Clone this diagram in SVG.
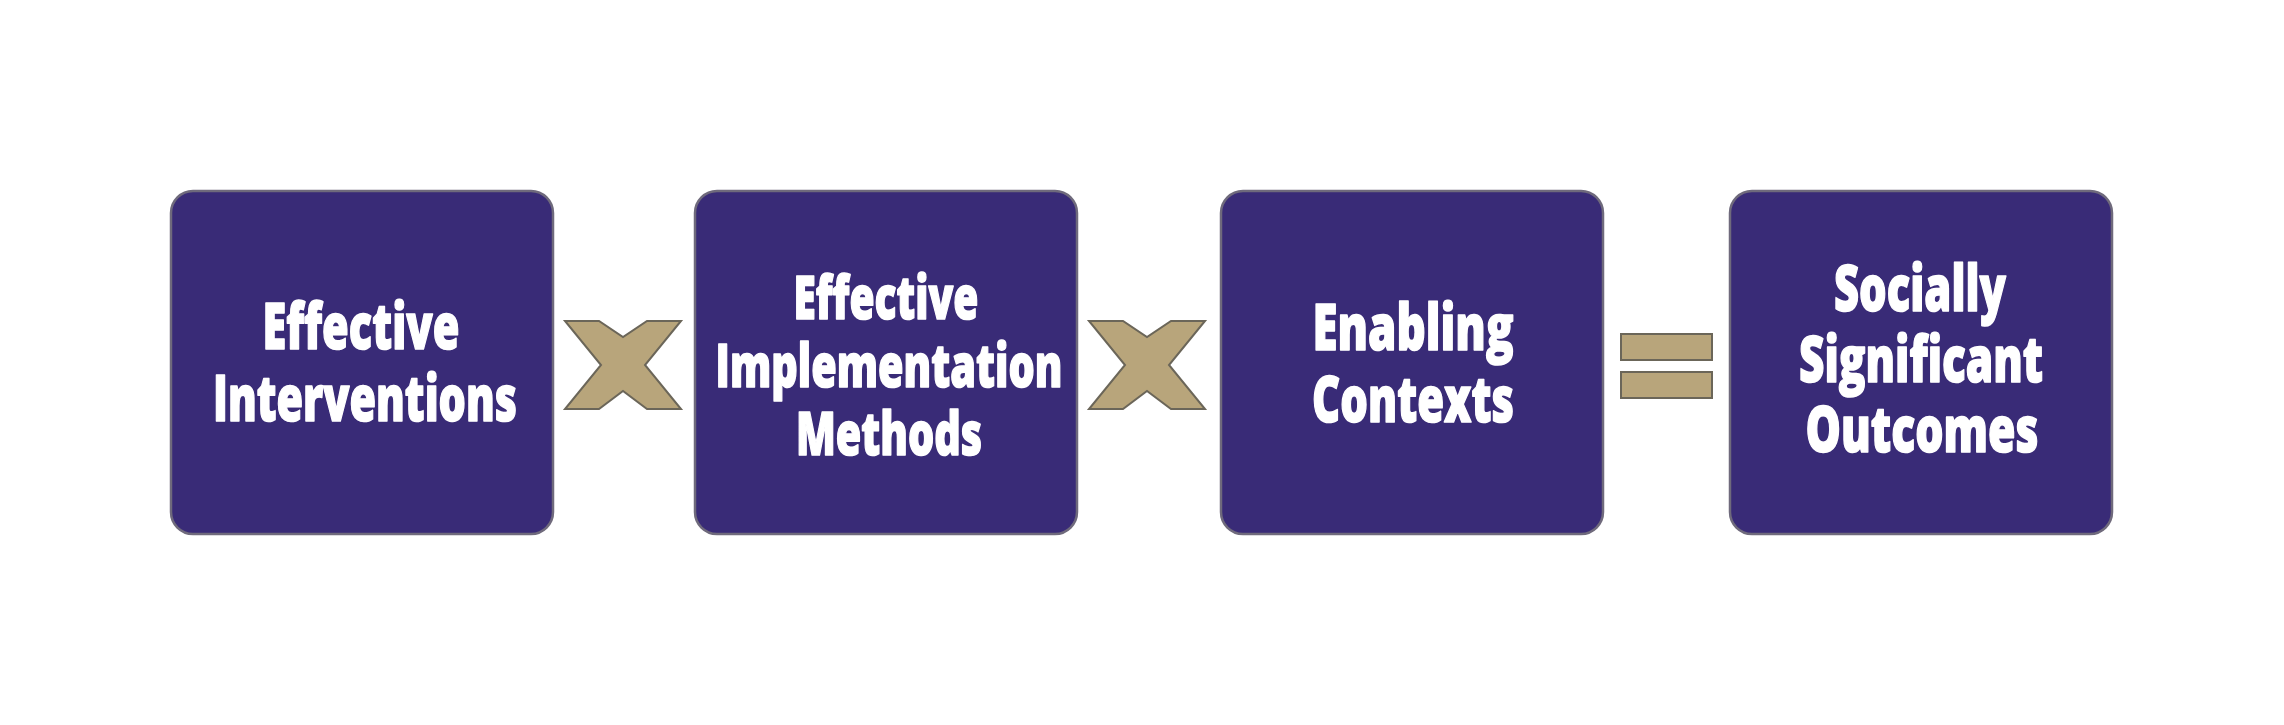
<svg xmlns="http://www.w3.org/2000/svg" width="2284" height="725" viewBox="0 0 2284 725">
  <defs>
    <style>
      .box { fill: #392b77; stroke: #6f6a7c; stroke-width: 2.5; }
      .lbl { fill: #ffffff; stroke: #ffffff; stroke-width: 1.6; stroke-linejoin: round; font-family: "Open Sans", "Liberation Sans", sans-serif; font-weight: 800; text-anchor: middle; }
      .big { font-size: 64px; }
      .mid { font-size: 60px; }
      .op { fill: #b8a57b; stroke: #6b6659; stroke-width: 2; stroke-linejoin: miter; }
    </style>
    <path id="xshape" d="M-58,-44 L-24,-44 L0,-28 L24,-44 L58,-44 L22,0 L58,44 L24,44 L0,26 L-24,44 L-58,44 L-22,0 Z"/>
  </defs>
  <rect width="2284" height="725" fill="#ffffff"/>

  <g id="node-effective-interventions">
    <rect class="box" x="171" y="191" width="382" height="343" rx="22" ry="22"/>
    <text class="lbl big" x="361" y="349" textLength="197" lengthAdjust="spacingAndGlyphs">Effective</text>
    <text class="lbl big" x="365" y="421" textLength="304" lengthAdjust="spacingAndGlyphs">Interventions</text>
  </g>

  <g id="node-effective-implementation-methods">
    <rect class="box" x="695" y="191" width="382" height="343" rx="22" ry="22"/>
    <text class="lbl mid" x="886" y="319" textLength="185" lengthAdjust="spacingAndGlyphs">Effective</text>
    <text class="lbl mid" x="889" y="387" textLength="347" lengthAdjust="spacingAndGlyphs">Implementation</text>
    <text class="lbl mid" x="889" y="455" textLength="186" lengthAdjust="spacingAndGlyphs">Methods</text>
  </g>

  <g id="node-enabling-contexts">
    <rect class="box" x="1221" y="191" width="382" height="343" rx="22" ry="22"/>
    <text class="lbl big" x="1413" y="350" textLength="201" lengthAdjust="spacingAndGlyphs">Enabling</text>
    <text class="lbl big" x="1413" y="422" textLength="202" lengthAdjust="spacingAndGlyphs">Contexts</text>
  </g>

  <g id="node-socially-significant-outcomes">
    <rect class="box" x="1730" y="191" width="382" height="343" rx="22" ry="22"/>
    <text class="lbl big" x="1920" y="311" textLength="172" lengthAdjust="spacingAndGlyphs">Socially</text>
    <text class="lbl big" x="1921" y="382" textLength="244" lengthAdjust="spacingAndGlyphs">Significant</text>
    <text class="lbl big" x="1922" y="452" textLength="233" lengthAdjust="spacingAndGlyphs">Outcomes</text>
  </g>

  <g id="connectors">
    <use href="#xshape" class="op" transform="translate(623,365)"/>
    <use href="#xshape" class="op" transform="translate(1147,365)"/>
    <rect class="op" x="1621" y="334" width="91" height="26"/>
    <rect class="op" x="1621" y="372" width="91" height="26"/>
  </g>
</svg>
